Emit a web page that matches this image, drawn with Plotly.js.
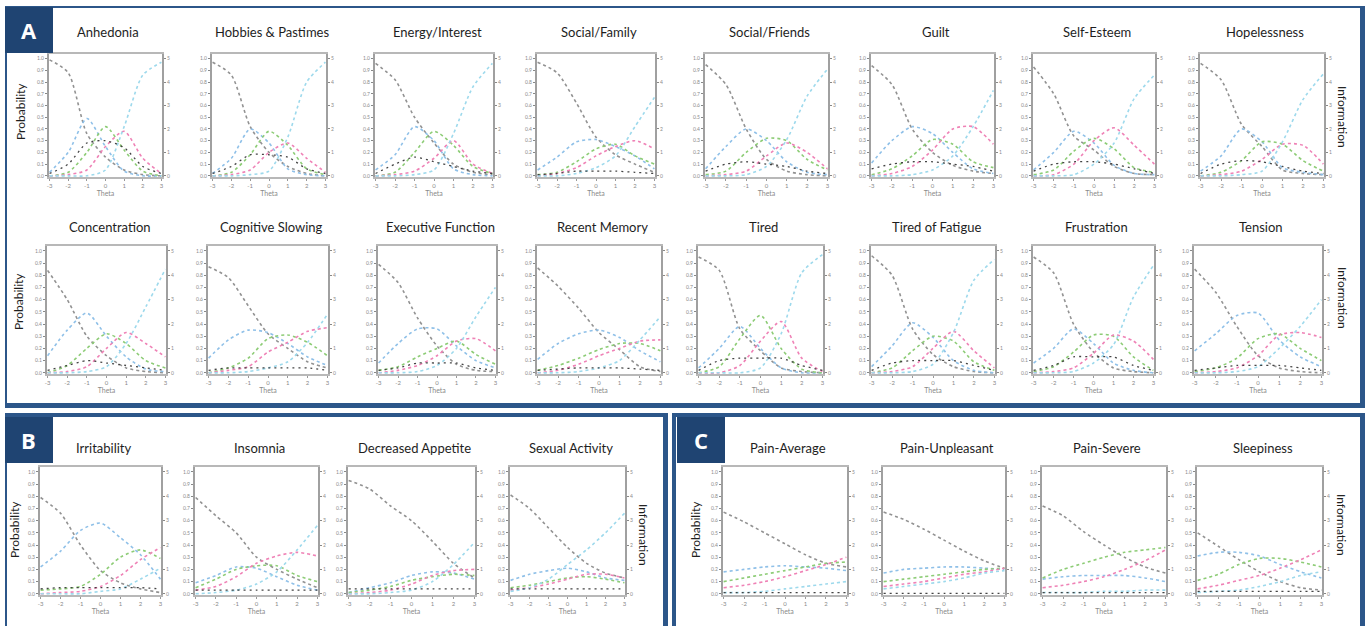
<!DOCTYPE html>
<html><head><meta charset="utf-8">
<script src="https://cdn.plot.ly/plotly-3.0.1.min.js"></script>
<style>body{margin:0;background:#fff}#chart{width:1371px;height:626px}</style>
</head><body><div id="chart"></div>
<script>
const theta = [-3, -2, -1, 0, 1, 2, 3];
const seriesNames = ["Category 0", "Category 1", "Category 2", "Category 3", "Category 4", "Information"];
const titles = ["Anhedonia", "Hobbies & Pastimes", "Energy/Interest", "Social/Family", "Social/Friends", "Guilt", "Self-Esteem", "Hopelessness",
  "Concentration", "Cognitive Slowing", "Executive Function", "Recent Memory", "Tired", "Tired of Fatigue", "Frustration", "Tension",
  "Irritability", "Insomnia", "Decreased Appetite", "Sexual Activity",
  "Pain-Average", "Pain-Unpleasant", "Pain-Severe", "Sleepiness"];
const xTickText = ["-3", "-2", "-1", "0", "1", "2", "3"];

// rows: cat0, cat1, cat2, cat3, cat4 (probability), information (right axis)
const anhedonia = [[0.99,0.88,0.36,0.16,0.05,0.01,0.0],[0.03,0.2,0.49,0.25,0.04,0,0],[0,0.03,0.2,0.42,0.22,0.04,0],[0,0.01,0.05,0.25,0.38,0.15,0.02],[0,0,0,0.05,0.42,0.86,0.97],[0.1,0.5,1.4,1.5,1.2,0.4,0.1]];
const hobbies = [[0.97,0.86,0.42,0.2,0.08,0.02,0.0],[0.02,0.15,0.4,0.28,0.06,0.01,0],[0,0.03,0.18,0.38,0.26,0.06,0.01],[0,0.01,0.05,0.2,0.28,0.15,0.03],[0,0,0.01,0.04,0.33,0.8,0.97],[0.1,0.4,0.9,0.9,0.8,0.3,0.1]];
const energy = [[0.96,0.82,0.5,0.28,0.1,0.03,0.01],[0.05,0.18,0.42,0.3,0.06,0.01,0],[0,0.03,0.2,0.38,0.26,0.08,0.02],[0,0.01,0.04,0.15,0.3,0.1,0.02],[0,0,0.01,0.05,0.36,0.76,0.96],[0.1,0.5,0.8,0.6,0.4,0.2,0.1]];
const socialFamily = [[0.97,0.88,0.62,0.33,0.18,0.1,0.03],[0.05,0.16,0.29,0.31,0.25,0.17,0.06],[0.01,0.03,0.12,0.23,0.27,0.17,0.1],[0,0.02,0.07,0.17,0.25,0.3,0.23],[0,0,0.02,0.07,0.17,0.42,0.67],[0.05,0.1,0.2,0.2,0.2,0.15,0.1]];
const socialFriends = [[0.95,0.78,0.4,0.14,0.04,0.01,0],[0.06,0.25,0.4,0.3,0.12,0.03,0.01],[0.01,0.04,0.2,0.32,0.3,0.14,0.05],[0,0.01,0.04,0.17,0.28,0.2,0.06],[0,0,0.01,0.08,0.31,0.68,0.91],[0.2,0.5,0.6,0.5,0.4,0.2,0.1]];
const guilt = [[0.94,0.78,0.4,0.2,0.09,0.04,0.02],[0.11,0.3,0.42,0.36,0.2,0.06,0.02],[0.01,0.06,0.17,0.31,0.27,0.12,0.07],[0,0.02,0.08,0.22,0.4,0.42,0.27],[0,0,0.01,0.05,0.17,0.42,0.73],[0.3,0.5,0.6,0.6,0.5,0.4,0.2]];
const selfEsteem = [[0.93,0.7,0.34,0.22,0.08,0.02,0.01],[0.05,0.2,0.38,0.28,0.09,0.02,0.01],[0.01,0.05,0.21,0.32,0.23,0.07,0.03],[0,0.01,0.1,0.3,0.41,0.26,0.1],[0,0,0.01,0.1,0.28,0.66,0.86],[0.2,0.5,0.6,0.6,0.5,0.3,0.1]];
const hopelessness = [[0.96,0.82,0.44,0.25,0.05,0.02,0.01],[0.04,0.17,0.4,0.29,0.07,0.03,0.01],[0,0.03,0.13,0.29,0.27,0.13,0.04],[0,0.01,0.04,0.14,0.27,0.26,0.1],[0,0,0.01,0.04,0.29,0.65,0.87],[0.1,0.5,0.65,0.6,0.4,0.2,0.1]];
const concentration = [[0.84,0.6,0.3,0.14,0.04,0.01,0],[0.14,0.35,0.49,0.3,0.13,0.03,0.01],[0,0.06,0.2,0.32,0.24,0.1,0.04],[0,0.01,0.05,0.2,0.33,0.24,0.13],[0,0,0.01,0.05,0.24,0.54,0.85],[0.1,0.3,0.5,0.4,0.3,0.2,0.1]];
const cognitiveSlowing = [[0.87,0.78,0.55,0.32,0.2,0.09,0.04],[0.12,0.27,0.35,0.33,0.24,0.13,0.06],[0,0.04,0.12,0.28,0.31,0.25,0.14],[0,0.02,0.05,0.17,0.25,0.34,0.37],[0,0,0.01,0.04,0.09,0.25,0.48],[0.1,0.2,0.2,0.2,0.2,0.2,0.1]];
const executiveFunction = [[0.89,0.74,0.45,0.22,0.07,0.02,0.01],[0.08,0.24,0.36,0.36,0.22,0.1,0.04],[0.02,0.05,0.13,0.2,0.26,0.15,0.07],[0,0.02,0.06,0.14,0.26,0.28,0.18],[0,0,0.01,0.06,0.2,0.46,0.7],[0.1,0.2,0.4,0.4,0.4,0.2,0.1]];
const recentMemory = [[0.86,0.71,0.53,0.33,0.19,0.05,0.01],[0.11,0.24,0.32,0.35,0.29,0.18,0.09],[0.02,0.06,0.12,0.19,0.24,0.24,0.18],[0,0.02,0.07,0.14,0.2,0.26,0.27],[0,0,0.01,0.04,0.1,0.27,0.46],[0.1,0.15,0.2,0.2,0.2,0.15,0.1]];
const tired = [[0.95,0.84,0.36,0.18,0.04,0.01,0],[0.04,0.2,0.38,0.2,0.04,0,0],[0,0.05,0.28,0.47,0.2,0.03,0],[0,0,0.06,0.26,0.42,0.12,0.01],[0,0,0,0.04,0.32,0.82,0.97],[0.1,0.5,0.6,0.6,0.6,0.3,0.1]];
const tiredFatigue = [[0.96,0.8,0.36,0.15,0.05,0.01,0],[0.05,0.22,0.41,0.29,0.1,0.02,0],[0,0.04,0.18,0.3,0.26,0.09,0.02],[0,0.01,0.05,0.2,0.34,0.18,0.04],[0,0,0.01,0.07,0.33,0.76,0.93],[0.1,0.4,0.5,0.5,0.5,0.3,0.1]];
const frustration = [[0.95,0.82,0.4,0.17,0.04,0.01,0],[0.08,0.2,0.36,0.24,0.08,0.02,0],[0.01,0.05,0.17,0.31,0.3,0.13,0.02],[0,0.01,0.04,0.16,0.31,0.26,0.11],[0,0,0.01,0.08,0.23,0.62,0.88],[0.1,0.3,0.65,0.65,0.65,0.3,0.1]];
const tension = [[0.85,0.66,0.38,0.14,0.04,0.01,0],[0.18,0.32,0.47,0.49,0.27,0.13,0.05],[0.01,0.04,0.12,0.28,0.32,0.2,0.1],[0,0.01,0.04,0.14,0.31,0.33,0.29],[0,0,0.01,0.05,0.2,0.38,0.6],[0.1,0.2,0.3,0.3,0.3,0.2,0.1]];
const irritability = [[0.79,0.66,0.4,0.19,0.09,0.04,0.01],[0.22,0.35,0.52,0.58,0.46,0.32,0.12],[0.03,0.04,0.06,0.16,0.3,0.36,0.29],[0,0.01,0.02,0.06,0.15,0.28,0.38],[0,0,0,0.02,0.04,0.12,0.21],[0.2,0.25,0.25,0.25,0.25,0.25,0.2]];
const insomnia = [[0.79,0.64,0.5,0.3,0.2,0.12,0.05],[0.09,0.15,0.22,0.21,0.14,0.07,0.03],[0.05,0.12,0.2,0.23,0.23,0.15,0.1],[0.03,0.06,0.14,0.25,0.31,0.34,0.31],[0,0.01,0.03,0.08,0.18,0.36,0.56],[0.15,0.15,0.15,0.15,0.15,0.15,0.15]];
const decreasedAppetite = [[0.93,0.86,0.72,0.6,0.43,0.25,0.13],[0.01,0.05,0.09,0.15,0.18,0.17,0.12],[0.01,0.03,0.06,0.11,0.14,0.16,0.15],[0,0.01,0.03,0.08,0.15,0.19,0.2],[0,0,0.01,0.03,0.1,0.24,0.42],[0.2,0.2,0.2,0.2,0.2,0.2,0.2]];
const sexualActivity = [[0.81,0.7,0.54,0.38,0.25,0.17,0.13],[0.11,0.16,0.19,0.21,0.18,0.13,0.11],[0.05,0.07,0.1,0.13,0.14,0.12,0.09],[0.03,0.05,0.08,0.12,0.16,0.16,0.13],[0.02,0.05,0.12,0.24,0.36,0.5,0.66],[0.2,0.2,0.2,0.2,0.2,0.2,0.2]];
const painAverage = [[0.67,0.59,0.5,0.41,0.32,0.25,0.22],[0.18,0.2,0.22,0.23,0.22,0.21,0.19],[0.1,0.13,0.16,0.19,0.22,0.25,0.26],[0.05,0.07,0.1,0.14,0.19,0.24,0.3],[0.01,0.01,0.02,0.04,0.06,0.08,0.1],[0.05,0.05,0.05,0.05,0.05,0.05,0.05]];
const painUnpleasant = [[0.67,0.61,0.53,0.44,0.35,0.27,0.21],[0.17,0.2,0.21,0.22,0.22,0.21,0.2],[0.1,0.12,0.14,0.16,0.18,0.2,0.21],[0.06,0.08,0.1,0.13,0.16,0.18,0.21],[0.04,0.06,0.08,0.1,0.13,0.17,0.19],[0.02,0.02,0.02,0.02,0.02,0.02,0.02]];
const painSevere = [[0.72,0.64,0.51,0.4,0.3,0.22,0.17],[0.12,0.14,0.15,0.15,0.15,0.13,0.1],[0.13,0.2,0.25,0.3,0.34,0.36,0.38],[0.05,0.07,0.1,0.14,0.2,0.27,0.36],[0.01,0.01,0.01,0.02,0.02,0.03,0.03],[0.05,0.05,0.05,0.05,0.05,0.05,0.05]];
const sleepiness = [[0.5,0.39,0.28,0.18,0.1,0.05,0.03],[0.31,0.34,0.34,0.31,0.24,0.18,0.13],[0.11,0.16,0.24,0.29,0.29,0.26,0.22],[0.04,0.07,0.11,0.15,0.21,0.28,0.36],[0.01,0.02,0.03,0.06,0.1,0.15,0.18],[0.1,0.1,0.1,0.1,0.1,0.1,0.1]];

const plots = [anhedonia, hobbies, energy, socialFamily, socialFriends, guilt, selfEsteem, hopelessness,
  concentration, cognitiveSlowing, executiveFunction, recentMemory, tired, tiredFatigue, frustration, tension,
  irritability, insomnia, decreasedAppetite, sexualActivity, painAverage, painUnpleasant, painSevere, sleepiness];

// ---- layout geometry (pixels) ----
const W = 1371, H = 626;
const colors = ["#929292", "#8fc0e8", "#8dcc76", "#ef82b6", "#9dd9ec", "#444444"];
const widths = [1.6, 1.6, 1.6, 1.6, 1.6, 1.3];
const dashes = ["dot", "dot", "dot", "dot", "dot", "2px,4px"];
const rowBoxes = [
  {top: 54, bottom: 177, titleY: 32, xs: [[49,162],[212,326],[375,493],[537,655],[705,828],[871,994],[1033,1155],[1200,1324]]},
  {top: 246, bottom: 374, titleY: 227, xs: [[47,166],[208,328],[378,496],[537,661],[698,823],[871,995],[1033,1154],[1194,1322]]},
  {top: 467, bottom: 595, titleY: 448, xs: [[40,161],[195,318],[348,475],[510,625],[723,847],[883,1005],[1042,1166],[1197,1322]]}
];
const px = x => x / W;
const py = y => 1 - y / H;

const traces = [];
const layout = {
  width: W, height: H, margin: {l: 0, r: 0, t: 0, b: 0},
  paper_bgcolor: "#ffffff", plot_bgcolor: "#ffffff", showlegend: false,
  font: {family: "Lato, 'Open Sans', sans-serif"},
  annotations: [], shapes: []
};

let k = 0;
rowBoxes.forEach(row => {
  row.xs.forEach(([l, r]) => {
    const i = k + 1;
    const xa = "x" + (i === 1 ? "" : i);
    const ya = "y" + (2 * i - 1 === 1 ? "" : (2 * i - 1));
    const ya2 = "y" + (2 * i);
    const vals = plots[k];
    vals.forEach((row_, s) => {
      traces.push({
        x: theta, y: row_, type: "scatter", mode: "lines", name: seriesNames[s],
        xaxis: xa, yaxis: s === 5 ? ya2 : ya,
        line: {color: colors[s], width: widths[s], dash: dashes[s], shape: "spline", smoothing: 0.7},
        hoverinfo: "skip"
      });
    });
    const xKey = "xaxis" + (i === 1 ? "" : i);
    const yKey = "yaxis" + (2 * i - 1 === 1 ? "" : (2 * i - 1));
    const y2Key = "yaxis" + (2 * i);
    layout[xKey] = {
      domain: [px(l), px(r)], anchor: ya, range: [-3.03, 3.03],
      tickvals: theta, ticktext: xTickText, ticks: "outside", ticklen: 2, tickcolor: "#999",
      tickfont: {size: 6, color: "#8a8a8a"}, showgrid: false, zeroline: false,
      showline: true, mirror: true, linecolor: "#b8b8b8", linewidth: 2,
      title: {text: "Theta", font: {size: 7, color: "#8a8a8a"}, standoff: 2}
    };
    layout[yKey] = {
      domain: [py(row.bottom), py(row.top)], anchor: xa, range: [-0.01, 1.04],
      dtick: 0.1, tick0: 0, tickformat: ".1f", ticks: "outside", ticklen: 2, tickcolor: "#888",
      tickfont: {size: 5, color: "#8a8a8a"}, showgrid: false, zeroline: false,
      showline: true, linecolor: "#a0a0a0", linewidth: 2
    };
    layout[y2Key] = {
      domain: [py(row.bottom), py(row.top)], anchor: xa, overlaying: ya, side: "right",
      range: [-0.05, 5.2], dtick: 1, ticks: "outside", ticklen: 2, tickcolor: "#888",
      tickfont: {size: 5, color: "#8a8a8a"}, showgrid: false, zeroline: false,
      showline: true, linecolor: "#a0a0a0", linewidth: 2
    };
    layout.annotations.push({
      xref: "paper", yref: "paper", x: px((l + r) / 2 + 3), y: py(row.titleY),
      text: titles[k], showarrow: false, xanchor: "center", yanchor: "middle",
      font: {size: 13, color: "#1e1e1e", family: "Lato, 'Open Sans', sans-serif"}
    });
    k++;
  });
});

// side labels
const sideLabels = [
  ["Probability", 20, 112, -90], ["Probability", 19, 302, -90], ["Probability", 14, 530, -90], ["Probability", 695, 530, -90],
  ["Information", 1343, 117, 90], ["Information", 1343, 298, 90], ["Information", 644, 535, 90], ["Information", 1342, 525, 90]
];
sideLabels.forEach(([t, x, y, a]) => layout.annotations.push({
  xref: "paper", yref: "paper", x: px(x), y: py(y), text: t, showarrow: false, textangle: a,
  xanchor: "center", yanchor: "middle", font: {size: 12, color: "#1e1e1e"}
}));

// panel frames
const navy = "#2c5689";
function rect(x0, y0, x1, y1, fill) {
  layout.shapes.push({type: "rect", xref: "paper", yref: "paper", x0: px(x0), x1: px(x1), y0: py(y1), y1: py(y0),
    line: {width: 0}, fillcolor: fill, layer: "above"});
}
// Panel A
rect(5, 6, 1365, 8, navy); rect(5, 6, 7, 407, navy); rect(1360, 6, 1365, 407, navy); rect(5, 403, 1365, 408, navy);
// Panel B
rect(5, 413, 668, 417, navy); rect(5, 413, 7, 626, navy); rect(663, 413, 668, 626, navy);
// Panel C
rect(672, 413, 1365, 417, navy); rect(672, 413, 676, 626, navy); rect(1360, 413, 1365, 626, navy);
// letter boxes
const letters = [["A", 5, 7], ["B", 5, 417], ["C", 677, 417]];
letters.forEach(([t, x, y]) => {
  rect(x, y, x + 48, y + 46, "#1f4472");
  layout.annotations.push({xref: "paper", yref: "paper", x: px(x + 24), y: py(y + 23), text: "<b>" + t + "</b>", showarrow: false,
    xanchor: "center", yanchor: "middle", font: {size: 22, color: "#ffffff", family: "'Open Sans', sans-serif"}});
});

Plotly.newPlot("chart", traces, layout, {staticPlot: true, displayModeBar: false});
</script>
</body></html>
